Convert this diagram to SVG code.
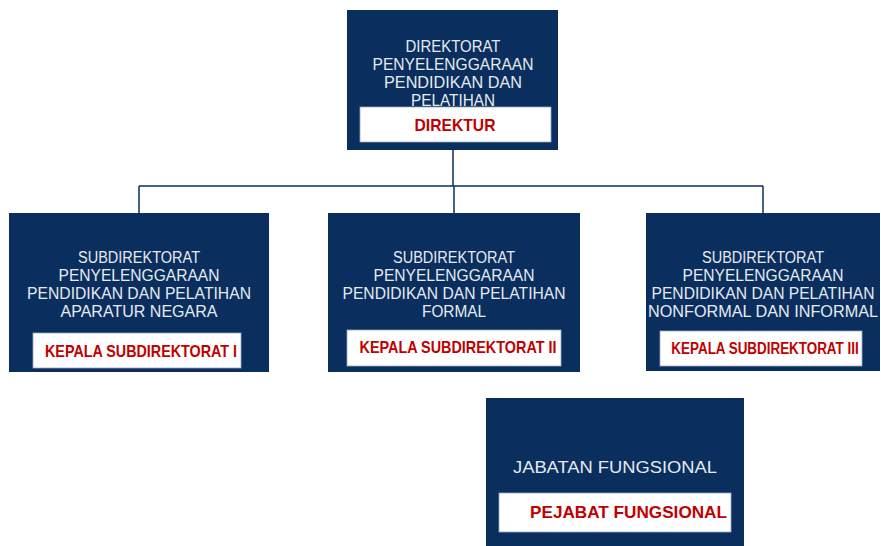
<svg xmlns="http://www.w3.org/2000/svg" width="881" height="546" viewBox="0 0 881 546">
<style>
.box{fill:#0A2F5E}
.lbl{fill:#fff;stroke:#9aa9bd;stroke-width:0.8}
.t{font-family:"Liberation Sans",Arial,sans-serif;font-size:16px;fill:#E6EAF0;text-anchor:middle}
.r{font-family:"Liberation Sans",Arial,sans-serif;font-size:17px;font-weight:bold;fill:#C00000;text-anchor:middle}
.c{fill:none;stroke:#0A2F5E;stroke-width:1.5}
</style>
<rect width="881" height="546" fill="#fff"/>
<g id="connectors">
<path class="c" d="M453 150V186M139 186H763M139 186V213M454 186V213M763 186V213"/>
</g>
<g id="direktur">
<rect class="box" x="347" y="10" width="211" height="140"/>
<text class="t" x="453" y="52" textLength="95" lengthAdjust="spacingAndGlyphs">DIREKTORAT</text>
<text class="t" x="453" y="70" textLength="161" lengthAdjust="spacingAndGlyphs">PENYELENGGARAAN</text>
<text class="t" x="453" y="88" textLength="138" lengthAdjust="spacingAndGlyphs">PENDIDIKAN DAN</text>
<text class="t" x="453" y="106" textLength="84" lengthAdjust="spacingAndGlyphs">PELATIHAN</text>
<rect class="lbl" x="360" y="107" width="191" height="35"/>
<text class="r" x="455" y="131" textLength="81" lengthAdjust="spacingAndGlyphs">DIREKTUR</text>
</g>
<g id="subdit1">
<rect class="box" x="9" y="213" width="260" height="159"/>
<text class="t" x="139" y="263" textLength="122" lengthAdjust="spacingAndGlyphs">SUBDIREKTORAT</text>
<text class="t" x="139" y="281" textLength="161" lengthAdjust="spacingAndGlyphs">PENYELENGGARAAN</text>
<text class="t" x="139" y="299" textLength="224" lengthAdjust="spacingAndGlyphs">PENDIDIKAN DAN PELATIHAN</text>
<text class="t" x="139" y="317" textLength="157" lengthAdjust="spacingAndGlyphs">APARATUR NEGARA</text>
<rect class="lbl" x="33" y="333" width="208" height="35"/>
<text class="r" x="141" y="357" textLength="192" lengthAdjust="spacingAndGlyphs">KEPALA SUBDIREKTORAT I</text>
</g>
<g id="subdit2">
<rect class="box" x="328" y="213" width="252" height="159"/>
<text class="t" x="454" y="263" textLength="122" lengthAdjust="spacingAndGlyphs">SUBDIREKTORAT</text>
<text class="t" x="454" y="281" textLength="161" lengthAdjust="spacingAndGlyphs">PENYELENGGARAAN</text>
<text class="t" x="454" y="299" textLength="223" lengthAdjust="spacingAndGlyphs">PENDIDIKAN DAN PELATIHAN</text>
<text class="t" x="454" y="317" textLength="64" lengthAdjust="spacingAndGlyphs">FORMAL</text>
<rect class="lbl" x="347" y="330" width="214" height="36"/>
<text class="r" x="458" y="353" textLength="197" lengthAdjust="spacingAndGlyphs">KEPALA SUBDIREKTORAT II</text>
</g>
<g id="subdit3">
<rect class="box" x="646" y="213" width="234" height="158"/>
<text class="t" x="763" y="263" textLength="122" lengthAdjust="spacingAndGlyphs">SUBDIREKTORAT</text>
<text class="t" x="763" y="281" textLength="161" lengthAdjust="spacingAndGlyphs">PENYELENGGARAAN</text>
<text class="t" x="763" y="299" textLength="223" lengthAdjust="spacingAndGlyphs">PENDIDIKAN DAN PELATIHAN</text>
<text class="t" x="763" y="317" textLength="230" lengthAdjust="spacingAndGlyphs">NONFORMAL DAN INFORMAL</text>
<rect class="lbl" x="660" y="331" width="202" height="35"/>
<text class="r" font-size="15" transform="translate(765 354) scale(0.79 1)" x="0" y="0">KEPALA SUBDIREKTORAT III</text>
</g>
<g id="fungsional">
<rect class="box" x="486" y="398" width="258" height="148"/>
<text class="t" x="615" y="473" textLength="204" lengthAdjust="spacingAndGlyphs">JABATAN FUNGSIONAL</text>
<rect class="lbl" x="499" y="493" width="232" height="39"/>
<text class="r" x="628.5" y="518" font-size="18" textLength="197" lengthAdjust="spacingAndGlyphs">PEJABAT FUNGSIONAL</text>
</g>
</svg>
